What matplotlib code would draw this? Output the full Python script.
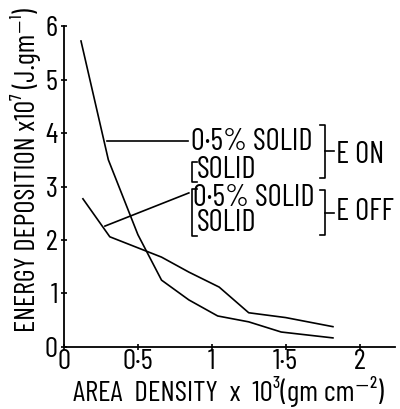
import numpy as np
import matplotlib.pyplot as plt
from matplotlib import font_manager

# area density (x10^3 gm cm^-2) vs energy deposition (x10^7 J/gm)
x_steep = [0.115, 0.30, 0.50, 0.66, 0.845, 1.04, 1.25, 1.47, 1.82]
y_steep = [5.72, 3.50, 2.10, 1.25, 0.88, 0.58, 0.47, 0.28, 0.17]

x_flat = [0.128, 0.31, 0.66, 0.845, 1.05, 1.25, 1.50, 1.82]
y_flat = [2.77, 2.06, 1.68, 1.40, 1.12, 0.64, 0.55, 0.38]

xticks = [0, 0.5, 1, 1.5, 2]
xtick_labels = ['0', '0·5', '1', '1·5', '2']
yticks = [0, 1, 2, 3, 4, 5, 6]

names = {f.name for f in font_manager.fontManager.ttflist}
main_font = 'DejaVu Sans'
for cand in ['Barlow Condensed', 'Archivo Narrow', 'Asap Condensed']:
    if cand in names:
        main_font = cand
        break
plt.rcParams['font.family'] = [main_font, 'DejaVu Sans']

fig = plt.figure(figsize=(4, 4.09), dpi=100)
ax = fig.add_axes([0.16, 0.1516, 0.8275, 0.7848])

ax.plot(x_steep, y_steep, color='black', lw=1.2)
ax.plot(x_flat, y_flat, color='black', lw=1.2)

ax.set_xlim(0, 2.24)
ax.set_ylim(0, 6)
ax.spines['top'].set_visible(False)
ax.spines['right'].set_visible(False)
for s in ['left', 'bottom']:
    ax.spines[s].set_linewidth(1.3)
ax.set_xticks(xticks)
ax.set_xticklabels(xtick_labels)
ax.set_yticks(yticks)
ax.tick_params(axis='both', direction='inout', length=5, width=1.2,
               labelsize=21, pad=2)
ax.tick_params(axis='x', pad=-1)

fig.text(0.57, 0.043, 'AREA  DENSITY  x  10³(gm cm⁻²)', fontsize=21,
         ha='center', va='center')
fig.text(0.065, 0.585, 'ENERGY DEPOSITION x10⁷ (J.gm⁻¹)', rotation=90,
         fontsize=20.5, ha='center', va='center')

# key text with leader lines
kw = dict(fontsize=22, va='center', ha='left')
ax.text(0.86, 3.83, '0·5% SOLID', **kw)
ax.text(0.90, 3.31, 'SOLID', **kw)
ax.text(0.87, 2.79, '0·5% SOLID', **kw)
ax.text(0.90, 2.32, 'SOLID', **kw)
ax.text(1.84, 3.59, 'E ON', **kw)
ax.text(1.84, 2.52, 'E OFF', **kw)

ax.plot([0.29, 0.84], [3.85, 3.85], color='black', lw=1.2)
ax.plot([0.277, 0.845], [2.26, 2.88], color='black', lw=1.2)


def bracket(x, y0, y1, side, mid=False):
    d = 0.035 if side == 'right' else -0.035
    ax.plot([x - d, x, x, x - d], [y1, y1, y0, y0], color='black', lw=1.2)
    if mid:
        ym = (y0 + y1) / 2
        ax.plot([x, x + 0.06], [ym, ym], color='black', lw=1.2)


bracket(1.765, 3.16, 4.15, 'right', mid=True)
bracket(1.765, 2.09, 2.93, 'right', mid=True)
bracket(0.865, 3.08, 3.46, 'left')
bracket(0.865, 2.07, 2.95, 'left')

fig.savefig('out.png', dpi=100)
